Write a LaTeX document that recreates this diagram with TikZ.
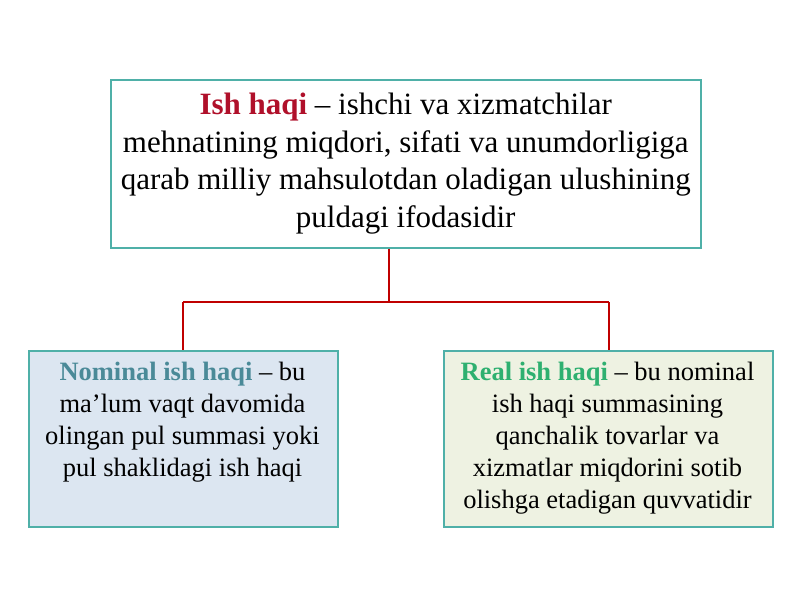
\documentclass[tikz,border=0pt]{standalone}
\usepackage{fontspec}
\setmainfont{Liberation Serif}
\usetikzlibrary{shadows}
\definecolor{boxline}{HTML}{4FB0A8}
\definecolor{conn}{HTML}{C00000}
\definecolor{titlered}{HTML}{B0102A}
\definecolor{titleblue}{HTML}{4A8A98}
\definecolor{titlegreen}{HTML}{2EB070}
\definecolor{fillblue}{HTML}{DCE6F1}
\definecolor{fillgreen}{HTML}{EEF2E2}
\begin{document}
\begin{tikzpicture}[x=1pt,y=-1pt,
  boxstyle/.style={draw=boxline, line width=1.5pt, drop shadow={shadow xshift=1pt,shadow yshift=-1.5pt,opacity=0.3}},
  conline/.style={draw=conn, line width=1.6pt}]
\useasboundingbox (0,0) rectangle (800,600);
\fill[white] (0,0) rectangle (800,600);
% boxes
\node[boxstyle, fill=white, minimum width=590pt, minimum height=168pt, inner sep=0pt, anchor=north west,
  align=center, font=\fontsize{31}{37.5}\selectfont] (top) at (110,79)
  {\textcolor{titlered}{\textbf{Ish haqi}} -- ishchi va xizmatchilar\\
   mehnatining miqdori, sifati va unumdorligiga\\
   qarab milliy mahsulotdan oladigan ulushining\\
   puldagi ifodasidir};
\node[boxstyle, fill=fillblue, minimum width=309pt, minimum height=176pt, inner sep=0pt, anchor=north west] (left) at (28,350) {};
\node[align=center, anchor=north, font=\fontsize{26.5}{32}\selectfont] (lefttext) at (182.5,359)
  {\textcolor{titleblue}{\textbf{Nominal ish haqi}} -- bu\\
   ma’lum vaqt davomida\\
   olingan pul summasi yoki\\
   pul shaklidagi ish haqi};
\node[boxstyle, fill=fillgreen, minimum width=329pt, minimum height=176pt, inner sep=0pt, anchor=north west] (right) at (443,350) {};
\node[align=center, anchor=north, font=\fontsize{26.5}{31.8}\selectfont] (righttext) at (607.5,359)
  {\textcolor{titlegreen}{\textbf{Real ish haqi}} -- bu nominal\\
   ish haqi summasining\\
   qanchalik tovarlar va\\
   xizmatlar miqdorini sotib\\
   olishga etadigan quvvatidir};
% connectors
\coordinate (j) at (389,302);
\coordinate (jl) at (183,302);
\coordinate (jr) at (609,302);
\draw[conline] (top.south -| j) -- (j);
\draw[conline] (jl) -- (jr);
\draw[conline] (jl) -- (jl |- left.north);
\draw[conline] (jr) -- (jr |- right.north);
\end{tikzpicture}
\end{document}
